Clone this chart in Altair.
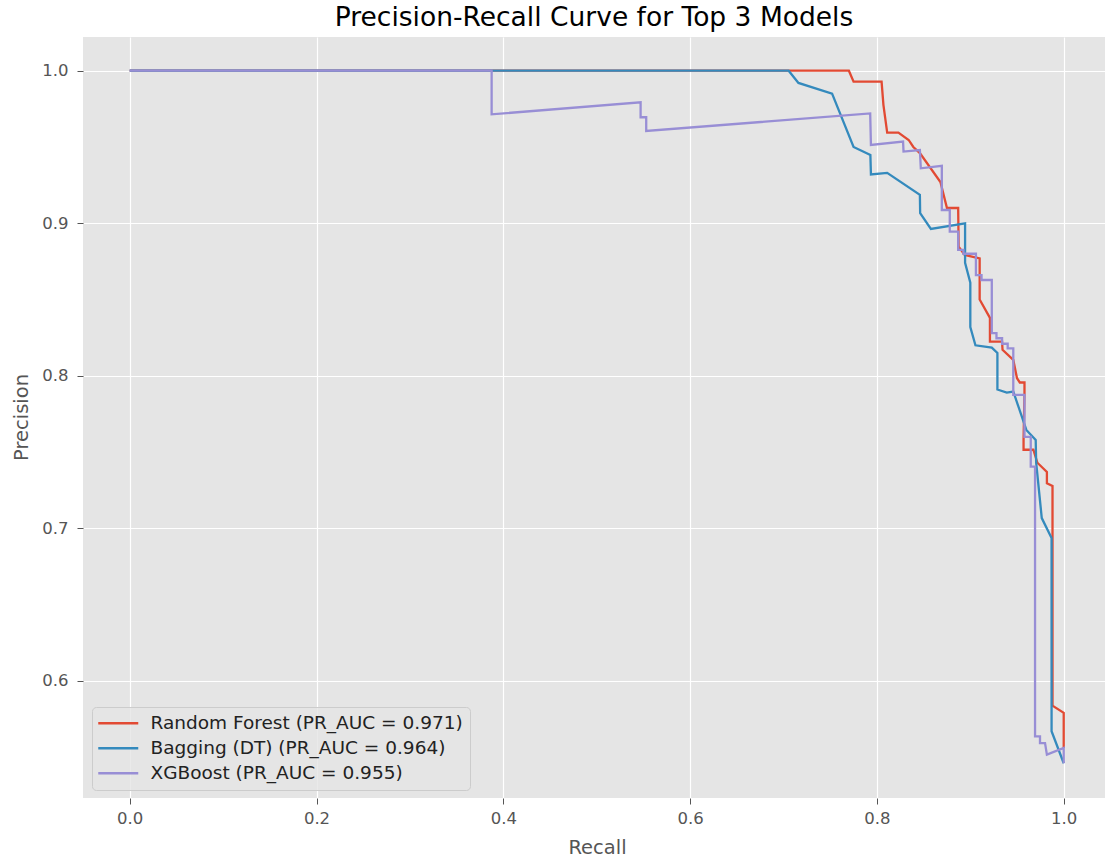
import altair as alt
import pandas as pd

models = [
    "Random Forest (PR_AUC = 0.971)",
    "Bagging (DT) (PR_AUC = 0.964)",
    "XGBoost (PR_AUC = 0.955)",
]
colors = ["#E24A33", "#348ABD", "#988ED5"]

rf_recall = [0.0, 0.770, 0.775, 0.805, 0.807, 0.811, 0.823, 0.834, 0.839, 0.846,
             0.868, 0.875, 0.887, 0.8875, 0.894, 0.910, 0.910, 0.921, 0.921, 0.934,
             0.9345, 0.946, 0.950, 0.953, 0.958, 0.958, 0.957, 0.957, 0.9675, 0.9718,
             0.982, 0.982, 0.988, 0.988, 1.0, 1.0]
rf_precision = [1.0, 1.0, 0.9928, 0.9928, 0.9775, 0.9594, 0.9594, 0.9546, 0.950, 0.946,
                0.927, 0.910, 0.910, 0.8847, 0.8792, 0.877, 0.850, 0.838, 0.8224, 0.8224,
                0.817, 0.8104, 0.7984, 0.7956, 0.7956, 0.7886, 0.758, 0.7515, 0.7515, 0.743,
                0.737, 0.7296, 0.7278, 0.5837, 0.579, 0.556]

bag_recall = [0.0, 0.7055, 0.716, 0.752, 0.775, 0.793, 0.7936, 0.811, 0.846, 0.8463,
              0.8578, 0.8944, 0.8944, 0.900, 0.900, 0.9055, 0.923, 0.929, 0.929, 0.939,
              0.946, 0.960, 0.970, 0.9705, 0.9765, 0.987, 0.987, 1.0]
bag_precision = [1.0, 1.0, 0.992, 0.985, 0.950, 0.9448, 0.932, 0.933, 0.9186, 0.9066,
                 0.8963, 0.900, 0.874, 0.861, 0.832, 0.820, 0.8185, 0.815, 0.791, 0.789,
                 0.7897, 0.7645, 0.758, 0.743, 0.7067, 0.6936, 0.567, 0.546]

xgb_recall = [0.0, 0.3875, 0.3875, 0.547, 0.547, 0.553, 0.553, 0.7928, 0.7936, 0.828,
              0.8285, 0.846, 0.847, 0.8695, 0.8695, 0.878, 0.878, 0.887, 0.887, 0.8926,
              0.8926, 0.906, 0.906, 0.912, 0.912, 0.923, 0.923, 0.928, 0.928, 0.934,
              0.934, 0.940, 0.940, 0.946, 0.946, 0.958, 0.958, 0.9647, 0.9647, 0.9693,
              0.9693, 0.9746, 0.9746, 0.980, 0.982, 1.0, 1.0]
xgb_precision = [1.0, 1.0, 0.9714, 0.9793, 0.9695, 0.9695, 0.9605, 0.972, 0.9513, 0.9535,
                 0.947, 0.948, 0.936, 0.9376, 0.9087, 0.9087, 0.8945, 0.8945, 0.8825, 0.8825,
                 0.880, 0.880, 0.866, 0.866, 0.8628, 0.8628, 0.828, 0.828, 0.8246, 0.8246,
                 0.821, 0.821, 0.818, 0.818, 0.7875, 0.7875, 0.760, 0.760, 0.7405, 0.7405,
                 0.5636, 0.5636, 0.5592, 0.5592, 0.5516, 0.556, 0.546]

x_ticks = [0.0, 0.2, 0.4, 0.6, 0.8, 1.0]
y_ticks = [0.6, 0.7, 0.8, 0.9, 1.0]

rows = []
for name, rec, prec in zip(models, [rf_recall, bag_recall, xgb_recall],
                           [rf_precision, bag_precision, xgb_precision]):
    for i, (r, p) in enumerate(zip(rec, prec)):
        rows.append({"model": name, "recall": r, "precision": p, "i": i})
df = pd.DataFrame(rows)

FONT = "DejaVu Sans"

chart = alt.Chart(df).mark_line(strokeWidth=2.3).encode(
    x=alt.X("recall:Q",
            scale=alt.Scale(domain=[-0.05, 1.0442], nice=False, zero=False),
            axis=alt.Axis(values=x_ticks, format=".1f", title="Recall",
                          tickSize=6, labelPadding=6,
                          titleX=514, titleY=55, titleBaseline="alphabetic",
                          titleAnchor="middle", titleAlign="center")),
    y=alt.Y("precision:Q",
            scale=alt.Scale(domain=[0.5232, 1.0221], nice=False, zero=False),
            axis=alt.Axis(values=y_ticks, format=".1f", title="Precision",
                          tickSize=6, labelPadding=9,
                          titleX=-56, titleY=380, titleBaseline="alphabetic",
                          titleAngle=270, titleAlign="center")),
    color=alt.Color("model:N",
                    scale=alt.Scale(domain=models, range=colors),
                    legend=alt.Legend(title=None, orient="none", legendX=9, legendY=670,
                                      symbolType="M-2,0H6", symbolSize=100,
                                      symbolStrokeWidth=2.3, labelFontSize=18.5,
                                      labelFont=FONT, labelColor="#222222",
                                      labelLimit=600, labelOffset=33,
                                      fillColor="rgba(229,229,229,0.8)",
                                      strokeColor="#cccccc", cornerRadius=4,
                                      padding=7, rowPadding=6)),
    order=alt.Order("i:Q"),
).properties(
    width=1022,
    height=761,
    autosize=alt.AutoSizeParams(type="none"),
    padding={"left": 83, "top": 37, "right": 0, "bottom": 63},
    background="white",
    title=alt.TitleParams("Precision-Recall Curve for Top 3 Models", fontSize=26.5,
                          font=FONT, fontWeight="normal", color="#000000",
                          offset=6, anchor="middle"),
).configure_view(
    fill="#E5E5E5", stroke=None
).configure_axis(
    grid=True, gridColor="#FFFFFF", gridWidth=1.2, domain=False,
    tickColor="#555555", labelColor="#555555", titleColor="#555555",
    labelFont=FONT, titleFont=FONT, labelFontSize=16.5, titleFontSize=19.5,
    titleFontWeight="normal",
)

chart.save("out.html", embed_options={"renderer": "svg", "actions": False})
